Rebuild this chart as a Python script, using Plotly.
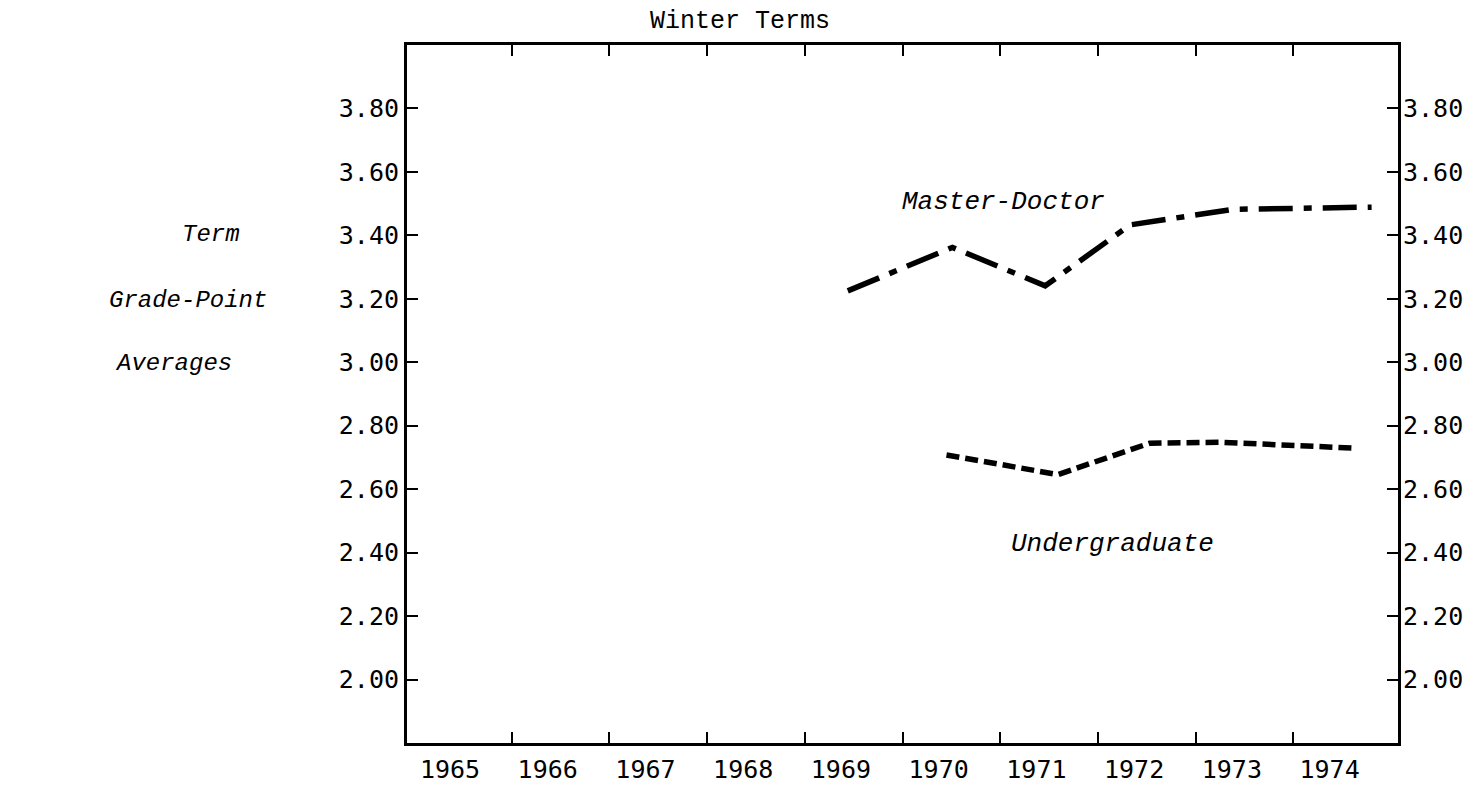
import plotly.graph_objects as go

# ---- data ----
years = [1965, 1966, 1967, 1968, 1969, 1970, 1971, 1972, 1973, 1974]
year_labels = [str(y) for y in years]
year_bounds = [y + 0.63 for y in years[:-1]]

gpa_ticks = [2.0, 2.2, 2.4, 2.6, 2.8, 3.0, 3.2, 3.4, 3.6, 3.8]
gpa_labels = ["2.00", "2.20", "2.40", "2.60", "2.80", "3.00", "3.20", "3.40", "3.60", "3.80"]

master_x = [1969.07, 1970.14, 1971.09, 1971.96, 1973.01, 1974.43]
master_y = [3.225, 3.362, 3.241, 3.433, 3.482, 3.489]

under_x = [1970.08, 1971.22, 1972.16, 1972.88, 1974.28]
under_y = [2.708, 2.646, 2.745, 2.748, 2.729]

X_RANGE = [1964.56, 1974.70]
Y_RANGE = [1.80, 4.00]

TYPE_FONT = "Liberation Mono, Courier New, monospace"
TICK_FONT = "DejaVu Sans Mono, monospace"

fig = go.Figure()

fig.add_trace(go.Scatter(
    x=master_x, y=master_y, mode="lines",
    line=dict(color="black", width=5.5, dash="34px,11px,8px,11px"),
    showlegend=False, hoverinfo="skip"))

fig.add_trace(go.Scatter(
    x=under_x, y=under_y, mode="lines",
    line=dict(color="black", width=5.5, dash="13px,6px"),
    showlegend=False, hoverinfo="skip"))

# invisible helper traces so the label-only axes exist
fig.add_trace(go.Scatter(x=[X_RANGE[0]], y=[Y_RANGE[0]], xaxis="x2", yaxis="y",
                         mode="markers", marker=dict(opacity=0), showlegend=False, hoverinfo="skip"))
fig.add_trace(go.Scatter(x=[X_RANGE[0]], y=[Y_RANGE[0]], xaxis="x", yaxis="y2",
                         mode="markers", marker=dict(opacity=0), showlegend=False, hoverinfo="skip"))

fig.update_layout(
    width=1484, height=796,
    margin=dict(l=407, r=86, t=45, b=41),
    paper_bgcolor="white", plot_bgcolor="white",
    showlegend=False,
    xaxis=dict(
        range=X_RANGE, showgrid=False, zeroline=False,
        tickmode="array", tickvals=year_bounds, ticktext=[""] * len(year_bounds),
        ticks="inside", ticklen=11, tickwidth=2, tickcolor="black",
        showline=True, linecolor="black", linewidth=3, mirror="ticks",
    ),
    xaxis2=dict(
        range=X_RANGE, overlaying="x", anchor="y", side="bottom",
        showgrid=False, zeroline=False, showline=False,
        tickmode="array", tickvals=years, ticktext=year_labels,
        ticks="", ticklabelstandoff=9,
        tickfont=dict(family=TICK_FONT, size=25, color="black"),
    ),
    yaxis=dict(
        range=Y_RANGE, showgrid=False, zeroline=False,
        tickmode="array", tickvals=gpa_ticks, ticktext=gpa_labels,
        ticks="inside", ticklen=11, tickwidth=2, tickcolor="black",
        ticklabelstandoff=0,
        tickfont=dict(family=TICK_FONT, size=25, color="black"),
        showline=True, linecolor="black", linewidth=3, mirror="ticks",
    ),
    yaxis2=dict(
        range=Y_RANGE, overlaying="y", anchor="x", side="right",
        showgrid=False, zeroline=False, showline=False,
        tickmode="array", tickvals=gpa_ticks, ticktext=gpa_labels,
        ticks="", ticklabelstandoff=4,
        tickfont=dict(family=TICK_FONT, size=25, color="black"),
    ),
)

def px_to_paper_x(px):
    return (px - 407) / (1398 - 407)

def px_to_paper_y(py):
    return (755 - py) / (755 - 45)

annotations = [
    dict(text="Winter Terms", x=px_to_paper_x(740), y=px_to_paper_y(21),
         xanchor="center", yanchor="middle",
         font=dict(family=TYPE_FONT, size=25, color="black")),
    dict(text="<i>Term</i>", x=px_to_paper_x(180), y=px_to_paper_y(238),
         xanchor="left", yanchor="middle",
         font=dict(family=TYPE_FONT, size=24, color="black")),
    dict(text="<i>Grade-Point</i>", x=px_to_paper_x(107), y=px_to_paper_y(305),
         xanchor="left", yanchor="middle",
         font=dict(family=TYPE_FONT, size=24, color="black")),
    dict(text="<i>Averages</i>", x=px_to_paper_x(113), y=px_to_paper_y(369),
         xanchor="left", yanchor="middle",
         font=dict(family=TYPE_FONT, size=24, color="black")),
]
for a in annotations:
    a.update(xref="paper", yref="paper", showarrow=False)

annotations += [
    dict(text="<i>Master-Doctor</i>", x=1970.66, y=3.505, xref="x", yref="y",
         showarrow=False, xanchor="center", yanchor="middle",
         font=dict(family=TYPE_FONT, size=26, color="black")),
    dict(text="<i>Undergraduate</i>", x=1971.78, y=2.426, xref="x", yref="y",
         showarrow=False, xanchor="center", yanchor="middle",
         font=dict(family=TYPE_FONT, size=26, color="black")),
]
fig.update_layout(annotations=annotations)

fig.write_html(
    "out.html",
    config={"displayModeBar": False},
    post_script="document.body.style.margin='0';document.body.style.overflow='hidden';",
)
